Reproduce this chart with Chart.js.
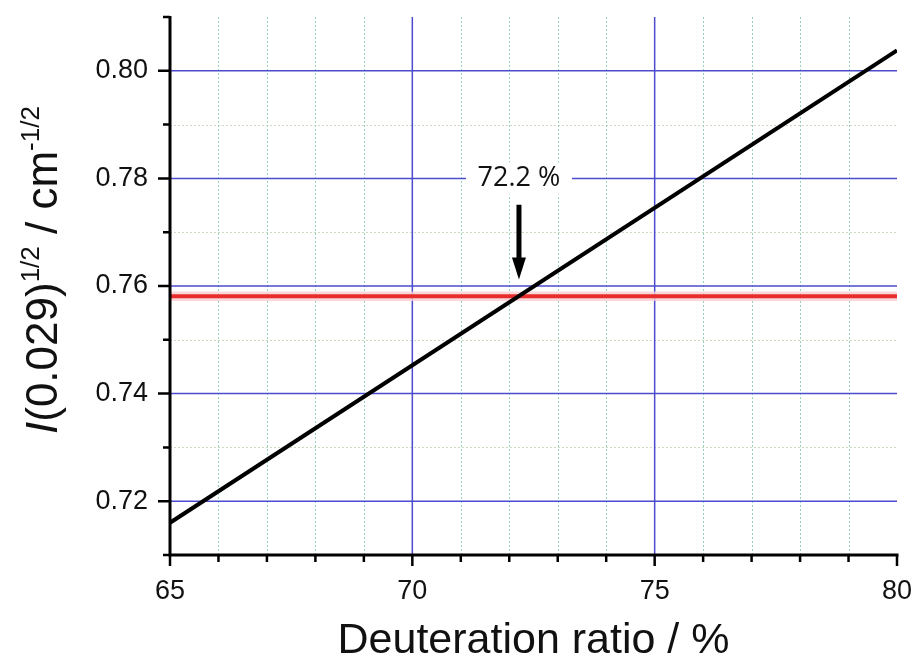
<!DOCTYPE html>
<html>
<head>
<meta charset="utf-8">
<script src="https://cdn.jsdelivr.net/npm/chart.js@4"></script>
<style>
  html, body { margin: 0; padding: 0; background: #fff; }
  #c { display: block; }
</style>
</head>
<body>
<canvas id="c" width="917" height="659"></canvas>
<script>
// ---- data ----
const fitX = [65, 80];                 // deuteration ratio (%)
const fitY = [0.716, 0.8038];          // I(0.029)^1/2 of linear fit
const measuredY = 0.7581;              // measured value
const measuredUpper = 0.7590;          // uncertainty band
const measuredLower = 0.7572;
const crossingX = 72.2;                // intersection
const crossingLabel = '72.2 %';
const arrowFromY = 0.7751;
const arrowToY = 0.7612;
const xTicks = [65, 70, 75, 80];
const xMinorTicks = [66, 67, 68, 69, 71, 72, 73, 74, 76, 77, 78, 79];
const yTicks = [0.72, 0.74, 0.76, 0.78, 0.80];
const yMinorTicks = [0.71, 0.73, 0.75, 0.77, 0.79, 0.81];

const FONT = '"Liberation Sans", Arial, Helvetica, sans-serif';

const decor = {
  id: 'decor',
  beforeDatasetsDraw(chart) {
    const {ctx, chartArea: a, scales: {x, y}} = chart;
    ctx.save();
    // minor grid
    ctx.lineWidth = 1;
    ctx.setLineDash([2, 2]);
    ctx.strokeStyle = 'rgba(140,205,185,0.9)';
    xMinorTicks.forEach(v => {
      const p = Math.round(x.getPixelForValue(v)) + 0.5;
      ctx.beginPath(); ctx.moveTo(p, a.top); ctx.lineTo(p, a.bottom); ctx.stroke();
    });
    ctx.strokeStyle = 'rgba(190,210,180,0.8)';
    yMinorTicks.slice(1, -1).forEach(v => {
      const p = Math.round(y.getPixelForValue(v)) + 0.5;
      ctx.beginPath(); ctx.moveTo(a.left, p); ctx.lineTo(a.right, p); ctx.stroke();
    });
    // major grid
    ctx.setLineDash([]);
    ctx.strokeStyle = 'rgb(75,75,205)';
    ctx.lineWidth = 1.5;
    xTicks.slice(1, -1).forEach(v => {
      const p = x.getPixelForValue(v);
      ctx.beginPath(); ctx.moveTo(p, a.top); ctx.lineTo(p, a.bottom); ctx.stroke();
    });
    yTicks.forEach(v => {
      const p = y.getPixelForValue(v);
      ctx.beginPath(); ctx.moveTo(a.left, p); ctx.lineTo(a.right, p); ctx.stroke();
    });
    ctx.restore();
  },
  afterDatasetsDraw(chart) {
    const {ctx, chartArea: a, scales: {x, y}} = chart;
    ctx.save();
    // label with white background
    const cx = x.getPixelForValue(crossingX);
    const ly = y.getPixelForValue(0.78);
    ctx.font = '27px "Open Sans", "DejaVu Sans", sans-serif';
    ctx.fillStyle = '#fff';
    ctx.fillRect(cx - 53, ly - 16, 106, 32);
    ctx.fillStyle = '#111';
    ctx.textAlign = 'center';
    ctx.textBaseline = 'middle';
    ctx.fillText(crossingLabel, cx, ly);
    // arrow
    const yA = y.getPixelForValue(arrowFromY);
    const yB = y.getPixelForValue(arrowToY);
    ctx.fillStyle = '#000';
    ctx.fillRect(cx - 2.5, yA, 5, (yB - yA) - 18);
    ctx.beginPath();
    ctx.moveTo(cx - 7, yB - 22);
    ctx.lineTo(cx + 7, yB - 22);
    ctx.lineTo(cx, yB);
    ctx.closePath();
    ctx.fill();
    // axes
    ctx.strokeStyle = '#000';
    ctx.lineWidth = 3;
    ctx.beginPath();
    ctx.moveTo(a.left, a.top - 1);
    ctx.lineTo(a.left, a.bottom + 1.5);
    ctx.moveTo(a.left - 1.5, a.bottom);
    ctx.lineTo(a.right + 1.5, a.bottom);
    ctx.stroke();
    ctx.lineWidth = 2.5;
    ctx.beginPath();
    yTicks.forEach(v => { const p = y.getPixelForValue(v); ctx.moveTo(a.left, p); ctx.lineTo(a.left - 12, p); });
    yMinorTicks.forEach(v => { const p = y.getPixelForValue(v); ctx.moveTo(a.left, p); ctx.lineTo(a.left - 7, p); });
    xTicks.forEach(v => { const p = x.getPixelForValue(v); ctx.moveTo(p, a.bottom); ctx.lineTo(p, a.bottom + 11); });
    xMinorTicks.forEach(v => { const p = x.getPixelForValue(v); ctx.moveTo(p, a.bottom); ctx.lineTo(p, a.bottom + 7); });
    ctx.stroke();
    ctx.restore();
  },
  afterDraw(chart) {
    const {ctx, chartArea: a} = chart;
    ctx.save();
    ctx.fillStyle = '#111';
    // x title
    ctx.font = '43px ' + FONT;
    ctx.textAlign = 'center';
    ctx.textBaseline = 'alphabetic';
    ctx.fillText('Deuteration ratio / %', (a.left + a.right) / 2, 653);
    // y title (rich text, rotated)
    ctx.translate(57, 434);
    ctx.rotate(-Math.PI / 2);
    ctx.textAlign = 'left';
    const segs = [
      {t: 'I', f: 'italic 44px ' + FONT, dy: 0},
      {t: '(0.029)', f: '44px ' + FONT, dy: 0},
      {t: '1/2', f: '26px ' + FONT, dy: -18},
      {t: ' / cm', f: '44px ' + FONT, dy: 0},
      {t: '-1/2', f: '26px ' + FONT, dy: -18}
    ];
    let cur = 0;
    segs.forEach(s => {
      ctx.font = s.f;
      ctx.fillText(s.t, cur, s.dy);
      cur += ctx.measureText(s.t).width;
    });
    ctx.restore();
  }
};

new Chart(document.getElementById('c'), {
  type: 'line',
  data: {
    datasets: [
      {
        label: 'fit',
        data: fitX.map((v, i) => ({x: v, y: fitY[i]})),
        borderColor: '#000', borderWidth: 4, pointRadius: 0, fill: false, order: 1
      },
      {
        label: 'measured',
        data: fitX.map(v => ({x: v, y: measuredY})),
        borderColor: 'rgb(232,45,45)', borderWidth: 4, pointRadius: 0, fill: false, order: 2
      },
      {
        label: 'upper',
        data: fitX.map(v => ({x: v, y: measuredUpper})),
        borderWidth: 0, borderColor: 'rgba(0,0,0,0)', pointRadius: 0,
        backgroundColor: 'rgba(250,205,210,0.8)', fill: '+1', order: 3
      },
      {
        label: 'lower',
        data: fitX.map(v => ({x: v, y: measuredLower})),
        borderWidth: 0, borderColor: 'rgba(0,0,0,0)', pointRadius: 0, fill: false, order: 4
      }
    ]
  },
  options: {
    responsive: false,
    animation: false,
    devicePixelRatio: 1,
    layout: {padding: {top: 17, right: 20, left: 0, bottom: 0}},
    plugins: {legend: {display: false}, tooltip: {enabled: false}},
    scales: {
      x: {
        type: 'linear', min: 65, max: 80,
        grid: {display: false, drawTicks: false},
        border: {display: false},
        afterBuildTicks: s => { s.ticks = xTicks.map(v => ({value: v})); },
        afterFit: s => { s.height = 104; s.paddingLeft = 0; s.paddingRight = 0; s.paddingTop = 0; s.paddingBottom = 0; },
        ticks: {font: {family: FONT, size: 27}, color: '#111', padding: 20, maxRotation: 0,
                callback: v => String(v)}
      },
      y: {
        type: 'linear', min: 0.71, max: 0.81,
        grid: {display: false, drawTicks: false},
        border: {display: false},
        afterBuildTicks: s => { s.ticks = yTicks.map(v => ({value: v})); },
        afterFit: s => { s.width = 170; s.paddingLeft = 0; s.paddingRight = 0; s.paddingTop = 0; s.paddingBottom = 0; },
        ticks: {font: {family: FONT, size: 27}, color: '#111', padding: 22,
                callback: v => Number(v).toFixed(2)}
      }
    }
  },
  plugins: [decor]
});
</script>
</body>
</html>
